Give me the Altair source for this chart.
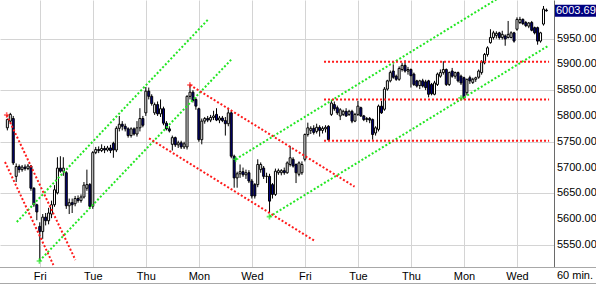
import json
import altair as alt
import pandas as pd

# ---------------- data (60-minute bars, 9 per trading day) ----------------
FIRST_BAR = -11  # bar index of first visible bar (Fri first bar = 0)

opens = [
    5777, 5790,
    5795, 5683, 5702, 5696, 5701, 5698, 5703, 5660, 5628,
    5586, 5576, 5604, 5597, 5610, 5628, 5651, 5699, 5693,
    5690, 5626, 5632, 5630, 5640, 5636, 5643, 5660, 5667,
    5625, 5729, 5735, 5733, 5737, 5734, 5738, 5747, 5734,
    5776, 5784, 5780, 5775, 5762, 5775, 5765, 5777, 5795,
    5806, 5848, 5838, 5806, 5822, 5804, 5814, 5786, 5775,
    5745, 5758, 5744, 5748, 5740, 5740, 5838, 5846, 5832,
    5814, 5754, 5790, 5795, 5792, 5797, 5803, 5792, 5796,
    5791, 5785, 5806, 5722, 5680, 5688, 5692, 5686, 5690,
    5674, 5667, 5667, 5696, 5699, 5683, 5683, 5667, 5648,
    5690, 5690, 5694, 5690, 5706, 5716, 5706, 5687, 5690,
    5716, 5764, 5772, 5776, 5770, 5778, 5772, 5775, 5780,
    5803, 5822, 5816, 5800, 5803, 5809, 5803, 5809, 5790,
    5803, 5816, 5800, 5793, 5795, 5793, 5767, 5774, 5819,
    5813, 5852, 5868, 5887, 5877, 5871, 5890, 5898, 5887,
    5890, 5881, 5868, 5859, 5868, 5866, 5868, 5861, 5842,
    5861, 5877, 5884, 5890, 5861, 5887, 5877, 5884, 5877,
    5874, 5845, 5874, 5865, 5871, 5875, 5884, 5903, 5919,
    5942, 5952, 5956, 5961, 5952, 5955, 5952, 5952, 5961,
    5968, 5981, 5987, 5981, 5974, 5981, 5971, 5971, 5945,
    5978, 6005,
]
highs = [
    5795, 5806,
    5800, 5708, 5706, 5705, 5706, 5707, 5705, 5662, 5630,
    5594, 5610, 5612, 5622, 5636, 5666, 5720, 5722, 5720,
    5693, 5640, 5640, 5645, 5646, 5648, 5672, 5696, 5670,
    5732, 5740, 5741, 5745, 5742, 5742, 5744, 5750, 5780,
    5800, 5790, 5785, 5778, 5778, 5778, 5790, 5815, 5800,
    5856, 5855, 5842, 5826, 5828, 5832, 5818, 5790, 5780,
    5762, 5760, 5752, 5752, 5750, 5840, 5861, 5850, 5836,
    5816, 5795, 5798, 5800, 5802, 5810, 5815, 5800, 5800,
    5798, 5816, 5810, 5725, 5692, 5706, 5700, 5696, 5695,
    5678, 5670, 5716, 5710, 5703, 5690, 5688, 5670, 5698,
    5698, 5697, 5700, 5712, 5742, 5720, 5708, 5712, 5712,
    5766, 5787, 5780, 5782, 5785, 5782, 5780, 5782, 5782,
    5830, 5828, 5820, 5815, 5812, 5815, 5812, 5812, 5806,
    5829, 5818, 5802, 5798, 5798, 5795, 5780, 5822, 5829,
    5856, 5870, 5888, 5900, 5880, 5896, 5903, 5908, 5895,
    5892, 5884, 5870, 5870, 5872, 5870, 5870, 5864, 5868,
    5884, 5890, 5906, 5892, 5886, 5893, 5886, 5886, 5880,
    5876, 5872, 5878, 5874, 5876, 5890, 5908, 5922, 5935,
    5968, 5965, 5964, 5963, 5965, 5958, 5984, 5964, 5963,
    5991, 5992, 5989, 5984, 5982, 5984, 5973, 5973, 5963,
    6013, 6008,
]
lows = [
    5772, 5786,
    5705, 5672, 5690, 5692, 5694, 5695, 5655, 5624, 5598,
    5521, 5562, 5588, 5590, 5602, 5624, 5648, 5690, 5684,
    5620, 5610, 5612, 5625, 5632, 5632, 5640, 5655, 5620,
    5620, 5726, 5728, 5730, 5728, 5731, 5728, 5719, 5730,
    5770, 5772, 5770, 5758, 5758, 5762, 5760, 5770, 5778,
    5800, 5832, 5820, 5802, 5800, 5798, 5782, 5772, 5768,
    5733, 5740, 5738, 5736, 5736, 5735, 5832, 5826, 5812,
    5750, 5745, 5785, 5788, 5788, 5792, 5790, 5786, 5788,
    5762, 5780, 5718, 5661, 5661, 5680, 5682, 5678, 5670,
    5640, 5640, 5662, 5690, 5678, 5670, 5612, 5640, 5645,
    5686, 5685, 5686, 5688, 5702, 5700, 5670, 5683, 5686,
    5712, 5760, 5765, 5764, 5766, 5760, 5766, 5768, 5752,
    5800, 5810, 5802, 5792, 5800, 5798, 5800, 5786, 5788,
    5800, 5798, 5790, 5788, 5786, 5754, 5762, 5770, 5804,
    5810, 5849, 5865, 5872, 5868, 5868, 5886, 5884, 5880,
    5855, 5858, 5855, 5852, 5855, 5850, 5836, 5840, 5840,
    5858, 5874, 5880, 5858, 5858, 5874, 5872, 5865, 5860,
    5832, 5840, 5862, 5862, 5866, 5872, 5880, 5900, 5915,
    5940, 5948, 5950, 5948, 5948, 5936, 5950, 5950, 5942,
    5965, 5978, 5976, 5972, 5970, 5964, 5958, 5938, 5942,
    5975, 6002,
]
closes = [
    5793, 5803,
    5709, 5702, 5696, 5701, 5698, 5703, 5660, 5628, 5614,
    5576, 5604, 5597, 5612, 5628, 5657, 5699, 5693, 5699,
    5626, 5632, 5628, 5640, 5636, 5643, 5666, 5667, 5625,
    5729, 5735, 5733, 5737, 5734, 5738, 5733, 5734, 5776,
    5784, 5780, 5775, 5762, 5775, 5765, 5777, 5795, 5782,
    5848, 5838, 5824, 5822, 5804, 5814, 5786, 5775, 5771,
    5758, 5744, 5748, 5740, 5746, 5838, 5846, 5830, 5819,
    5754, 5790, 5795, 5792, 5797, 5800, 5792, 5796, 5791,
    5785, 5806, 5722, 5680, 5688, 5692, 5686, 5690, 5674,
    5645, 5645, 5706, 5706, 5683, 5683, 5635, 5648, 5693,
    5694, 5694, 5690, 5709, 5719, 5703, 5690, 5709, 5706,
    5764, 5777, 5776, 5768, 5778, 5772, 5776, 5778, 5754,
    5825, 5814, 5806, 5812, 5809, 5800, 5809, 5790, 5803,
    5819, 5800, 5793, 5795, 5792, 5764, 5777, 5819, 5806,
    5852, 5868, 5884, 5875, 5871, 5892, 5898, 5887, 5890,
    5878, 5861, 5858, 5868, 5858, 5855, 5842, 5843, 5864,
    5881, 5884, 5890, 5861, 5884, 5877, 5884, 5868, 5864,
    5835, 5871, 5868, 5871, 5874, 5887, 5905, 5919, 5932,
    5952, 5961, 5960, 5952, 5958, 5949, 5958, 5961, 5945,
    5987, 5987, 5979, 5975, 5980, 5966, 5961, 5945, 5961,
    6007, 6003.69,
]

day_ticks = [0, 18, 36, 54, 72, 90, 108, 126, 144, 162]
day_labels = ["Fri", "Tue", "Thu", "Mon", "Wed", "Fri", "Tue", "Thu", "Mon", "Wed"]
price_ticks = [5550, 5600, 5650, 5700, 5750, 5800, 5850, 5900, 5950, 6000]
price_labels = [5550, 5600, 5650, 5700, 5750, 5800, 5850, 5900, 5950]
interval_label = "60 min."

# trend lines (bar index, price)
line_names = ["g1", "g2", "g3", "g4", "r1a", "r1b", "r2", "r3", "h1", "h2", "h3"]
line_kind = ["green"] * 4 + ["red"] * 7
line_t0 = [-7.8, -0.13, 66.5, 77.97, -11.23, -11.8, 50.97, 37.1, 96.5, 96.5, 96.5]
line_p0 = [5594.6, 5519.0, 5716.0, 5604.9, 5801.8, 5710.8, 5860.0, 5756.7, 5905.0, 5832.0, 5752.0]
line_t1 = [57.2, 65.2, 156.5, 172.5, 12.1, 4.63, 106.87, 93.2, 172.9, 172.9, 172.9]
line_p1 = [5987.2, 5910.3, 6031.0, 5935.5, 5521.0, 5511.3, 5663.0, 5558.4, 5905.0, 5832.0, 5752.0]

# small "+" anchor markers
mark_t = [-0.13, 66.5, 77.97, 143.0, -11.23, 50.97]
mark_p = [5519.0, 5716.0, 5604.9, 5835.0, 5801.8, 5860.0]
mark_kind = ["green", "green", "green", "green", "red", "red"]

# ---------------- build tables ----------------
n = len(closes)
assert len(opens) == n and len(highs) == n and len(lows) == n
bars = pd.DataFrame({
    "t": list(range(FIRST_BAR, FIRST_BAR + n)),
    "open": opens, "high": highs, "low": lows, "close": closes,
})
bars["dir"] = ["up" if c >= o else "down" for o, c in zip(opens, closes)]

rows = []
for name, kind, t0, p0, t1, p1 in zip(line_names, line_kind, line_t0, line_p0, line_t1, line_p1):
    rows.append({"line": name, "kind": kind, "t": t0, "p": p0, "o": 0})
    rows.append({"line": name, "kind": kind, "t": t1, "p": p1, "o": 1})
lines = pd.DataFrame(rows)
marks = pd.DataFrame({"t": mark_t, "p": mark_p, "kind": mark_kind})
last = pd.DataFrame({"close": [closes[-1]], "label": [f"{closes[-1]:.2f}"]})
misc = pd.DataFrame({"label": [interval_label]})
ylab = pd.DataFrame({"p": price_labels, "label": [f"{v:.2f}" for v in price_labels]})

FONT = "Liberation Sans"
W, H = 554, 267
X_DOMAIN = [-11.8, 172.87]
Y_DOMAIN = [5507.4, 6024.6]
x_scale = alt.Scale(domain=X_DOMAIN, nice=False, zero=False)
y_scale = alt.Scale(domain=Y_DOMAIN, nice=False, zero=False)
kind_scale = alt.Scale(domain=["green", "red"], range=["#22e622", "#ff1a1a"])

label_expr = json.dumps(day_labels).replace('"', "'") + "[round(datum.value / 18)]"

x_axis = alt.Axis(
    values=day_ticks, labelExpr=label_expr, grid=True, gridColor="#d4d4d4",
    ticks=False, domain=False, labelPadding=9, labelBaseline="middle",
    labelFont=FONT, labelFontSize=11, labelColor="black", title=None, labelAngle=0,
    labelAlign="center", labelFlush=False, labelOverlap=False,
)
y_axis = alt.Axis(
    orient="right", values=price_ticks, labels=False,
    grid=True, gridColor="#d4d4d4", ticks=False, domain=True,
    domainColor="#6a6a6a", title=None,
)

X = lambda f: alt.X(f, scale=x_scale, title=None)
Y = lambda f: alt.Y(f, scale=y_scale, title=None)

base = alt.Chart(bars)

wicks = base.mark_rule(color="black", strokeWidth=1).encode(
    x=alt.X("t:Q", scale=x_scale, axis=x_axis),
    y=alt.Y("low:Q", scale=y_scale, axis=y_axis),
    y2="high:Q",
)

bodies = base.mark_bar(size=2, stroke="black", strokeWidth=1).encode(
    x=X("t:Q"),
    y=Y("open:Q"),
    y2="close:Q",
    fill=alt.Fill("dir:N", scale=alt.Scale(domain=["up", "down"], range=["white", "#000080"]), legend=None),
)

trend = alt.Chart(lines).mark_line(strokeWidth=2, strokeDash=[2, 2], clip=True).encode(
    x=X("t:Q"),
    y=Y("p:Q"),
    detail="line:N",
    order="o:Q",
    color=alt.Color("kind:N", scale=kind_scale, legend=None),
)

plus = alt.Chart(marks).mark_point(
    shape="M-1,0L1,0M0,-1L0,1", size=30, strokeWidth=1.6, filled=False
).encode(
    x=X("t:Q"),
    y=Y("p:Q"),
    color=alt.Color("kind:N", scale=kind_scale, legend=None),
)

# price-axis labels (right side)
ytext = alt.Chart(ylab).mark_text(
    align="left", baseline="middle", font=FONT, fontSize=11, color="black"
).encode(
    x=alt.value(557),
    y=Y("p:Q"),
    text="label:N",
)

price_box = alt.Chart(last).mark_rule(strokeWidth=12, color="#000080", strokeCap="butt").encode(
    x=alt.value(555), x2=alt.value(596),
    y=Y("close:Q"),
)
price_text = alt.Chart(last).mark_text(
    align="left", baseline="middle", font=FONT, fontSize=11, color="white"
).encode(
    x=alt.value(556),
    y=Y("close:Q"),
    text="label:N",
)

interval_text = alt.Chart(misc).mark_text(
    align="center", baseline="middle", font=FONT, fontSize=11, color="black"
).encode(x=alt.value(575), y=alt.value(276), text="label:N")

frame_top = alt.Chart(misc).mark_rule(color="#a8a8a8", strokeWidth=1).encode(
    x=alt.value(0), x2=alt.value(596), y=alt.value(267.5)
)
frame_bottom = alt.Chart(misc).mark_rule(color="#a8a8a8", strokeWidth=1).encode(
    x=alt.value(0), x2=alt.value(596), y=alt.value(283.5)
)

chart = alt.layer(
    wicks, bodies, trend, plus, ytext, price_box, price_text, interval_text, frame_top, frame_bottom
).properties(
    width=W, height=H,
    autosize=alt.AutoSizeParams(type="none"),
    padding={"left": 0, "top": 0, "right": 42, "bottom": 18},
    background="white",
).configure_view(stroke=None)

chart.save("out.html", embed_options={"renderer": "svg", "actions": False})
